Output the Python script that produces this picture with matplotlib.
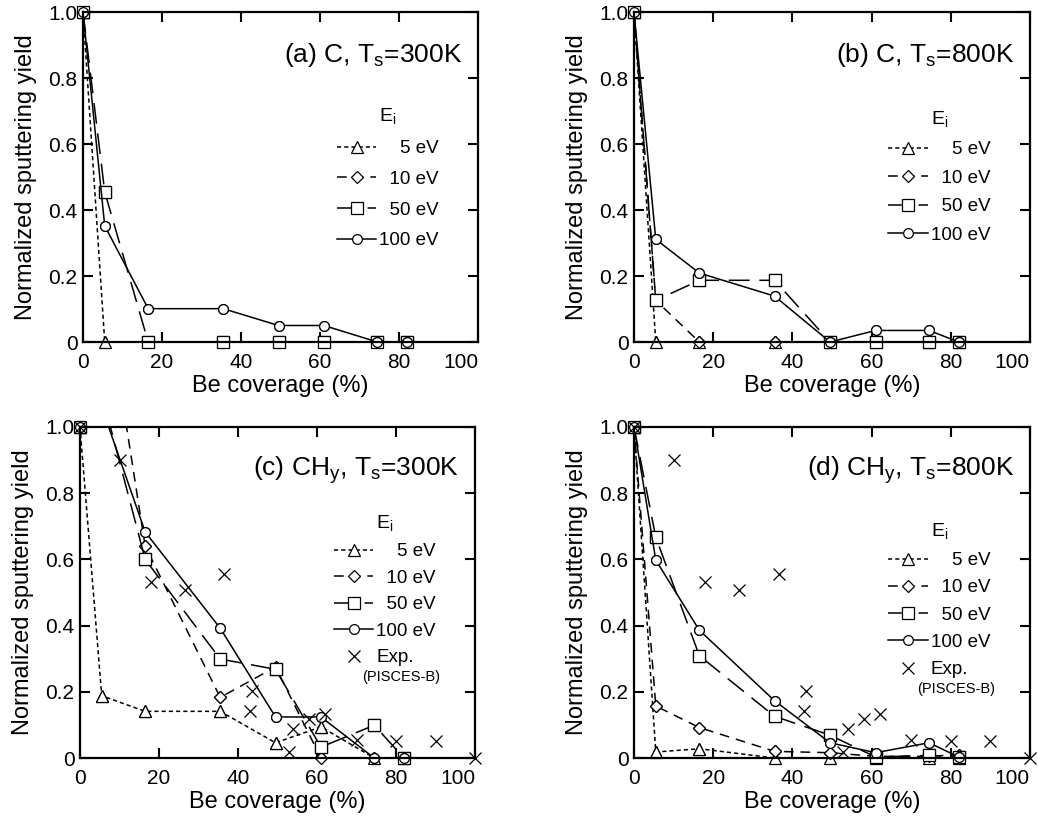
import matplotlib
matplotlib.use("Agg")
import matplotlib.pyplot as plt
import numpy as np

plt.rcParams['font.family'] = ['Liberation Sans', 'DejaVu Sans']
plt.rcParams['lines.scale_dashes'] = False

# Be coverage (%) of the simulated points
coverage = [0, 5.5, 16.5, 35.5, 49.5, 61, 74.5, 82]

# (a) C, Ts=300K
a_5ev_x = [0, 5.5]
a_5ev = [1.0, 0.0]
a_10ev_x = [0]
a_10ev = [1.0]
a_50ev = [1.0, 0.455, 0.0, 0.0, 0.0, 0.0, 0.0, 0.0]
a_100ev = [1.0, 0.352, 0.101, 0.101, 0.05, 0.05, 0.0, 0.0]

# (b) C, Ts=800K
b_5ev = [1.0, 0.0, 0.0, 0.0, 0.0, 0.0, 0.0, 0.0]
b_10ev_x = [0, 5.5, 16.5, 35.5, 49.5]
b_10ev = [1.0, 0.126, 0.0, 0.0, 0.0]
b_50ev = [1.0, 0.126, 0.187, 0.187, 0.0, 0.0, 0.0, 0.0]
b_100ev = [1.0, 0.311, 0.209, 0.139, 0.0, 0.035, 0.035, 0.0]

# (c) CHy, Ts=300K
c_5ev = [1.0, 0.188, 0.141, 0.141, 0.046, 0.094, 0.0, 0.0]
c_10ev = [1.0, 1.48, 0.64, 0.183, 0.275, 0.0, 0.0, 0.0]
c_50ev = [1.0, 1.1, 0.60, 0.299, 0.268, 0.033, 0.099, 0.0]
c_100ev = [1.0, 1.06, 0.683, 0.392, 0.124, 0.124, 0.0, 0.0]

# (d) CHy, Ts=800K
d_5ev = [1.0, 0.018, 0.028, 0.0, 0.0, 0.0, 0.0, 0.0]
d_10ev = [1.0, 0.157, 0.092, 0.02, 0.016, 0.005, 0.005, 0.01]
d_50ev = [1.0, 0.667, 0.309, 0.126, 0.069, 0.003, 0.008, 0.003]
d_100ev = [1.0, 0.598, 0.386, 0.173, 0.046, 0.016, 0.046, 0.003]

# experiment (PISCES-B)
exp_x = [0, 10, 18, 26.5, 36.5, 43.5, 43, 52.8, 54, 58, 62, 70, 80, 90, 100]
exp_y = [1.0, 0.90, 0.533, 0.508, 0.556, 0.202, 0.141, 0.018, 0.089, 0.117, 0.134, 0.053, 0.05, 0.05, 0.0]

labels = ["    5 eV", "  10 eV", "  50 eV", "100 eV"]
styles = [
    dict(marker='^', ms=8, ls=(0, (3, 2.2))),
    dict(marker='D', ms=6.5, ls=(0, (7, 5))),
    dict(marker='s', ms=8, ls=(0, (15, 7))),
    dict(marker='o', ms=7, ls='-'),
]


def series(ax, x, y, st, label):
    line, = ax.plot(x, y, color='black', lw=1.1, mfc='white', mec='black',
                    mew=0.9, label=label, **st)
    x = np.array(x)
    y = np.array(y)
    ok = y <= 1.0
    ax.plot(x[ok], y[ok], ls='none', marker=st['marker'], ms=st['ms'],
            mfc='white', mec='black', mew=0.9, clip_on=False)
    return line


def setup(ax, title):
    ax.set_xlim(0, 100)
    ax.set_ylim(0, 1.0)
    ax.set_xticks([0, 20, 40, 60, 80, 100])
    ax.set_yticks([0, 0.2, 0.4, 0.6, 0.8, 1.0])
    ax.set_yticklabels(['0', '0.2', '0.4', '0.6', '0.8', '1.0'])
    ax.tick_params(direction='in', length=7, width=1.5, labelsize=15,
                   top=True, right=True)
    ax.tick_params(axis='x', pad=8)
    ax.tick_params(axis='y', pad=4)
    ax.get_xticklabels()[-1].set_ha('right')
    for s in ax.spines.values():
        s.set_linewidth(1.6)
    ax.set_xlabel("Be coverage (%)", fontsize=17, labelpad=2)
    ax.set_ylabel("Normalized sputtering yield", fontsize=17, labelpad=8)
    ax.text(0.96, 0.87, title, transform=ax.transAxes, ha='right', va='center',
            fontsize=19)


def legend(ax, handles, ytop, spacing):
    ax.legend(handles=handles, loc='upper left', bbox_to_anchor=(0.6, ytop),
              frameon=False, fontsize=13.5, title="E$_\\mathregular{i}$",
              title_fontsize=14, handlelength=2.1, handletextpad=0.15,
              labelspacing=spacing)


fig = plt.figure(figsize=(10.38, 8.18), dpi=100)
ax_a = fig.add_axes([83/1038, 1-342/818, 395/1038, 330/818])
ax_b = fig.add_axes([634/1038, 1-342/818, 396/1038, 330/818])
ax_c = fig.add_axes([80/1038, 1-758/818, 395/1038, 331/818])
ax_d = fig.add_axes([634/1038, 1-758/818, 396/1038, 331/818])

# (a)
h = []
h.append(series(ax_a, a_5ev_x, a_5ev, styles[0], labels[0]))
h.append(series(ax_a, a_10ev_x, a_10ev, styles[1], labels[1]))
h.append(series(ax_a, coverage, a_50ev, styles[2], labels[2]))
h.append(series(ax_a, coverage, a_100ev, styles[3], labels[3]))
setup(ax_a, "(a) C, T$_\\mathregular{s}$=300K")
legend(ax_a, h, 0.765, 0.72)

# (b)
h = []
h.append(series(ax_b, coverage, b_5ev, styles[0], labels[0]))
h.append(series(ax_b, b_10ev_x, b_10ev, styles[1], labels[1]))
h.append(series(ax_b, coverage, b_50ev, styles[2], labels[2]))
h.append(series(ax_b, coverage, b_100ev, styles[3], labels[3]))
setup(ax_b, "(b) C, T$_\\mathregular{s}$=800K")
legend(ax_b, h, 0.755, 0.6)

# (c) and (d)
for ax, data, title, ytop, sp, ypis in [
        (ax_c, [c_5ev, c_10ev, c_50ev, c_100ev],
         "(c) CH$_\\mathregular{y}$, T$_\\mathregular{s}$=300K", 0.79, 0.5, 0.245),
        (ax_d, [d_5ev, d_10ev, d_50ev, d_100ev],
         "(d) CH$_\\mathregular{y}$, T$_\\mathregular{s}$=800K", 0.765, 0.54, 0.208)]:
    h = []
    for y, st, lab in zip(data, styles, labels):
        h.append(series(ax, coverage, y, st, lab))
    ex, = ax.plot(exp_x, exp_y, ls='none', marker='x', ms=9, mew=0.9,
                  color='black', clip_on=False, label="Exp.")
    h.append(ex)
    setup(ax, title)
    legend(ax, h, ytop, sp)
    ax.text(0.715, ypis, "(PISCES-B)", transform=ax.transAxes, fontsize=10.5,
            ha='left', va='center')

fig.savefig("out.png", dpi=100)
